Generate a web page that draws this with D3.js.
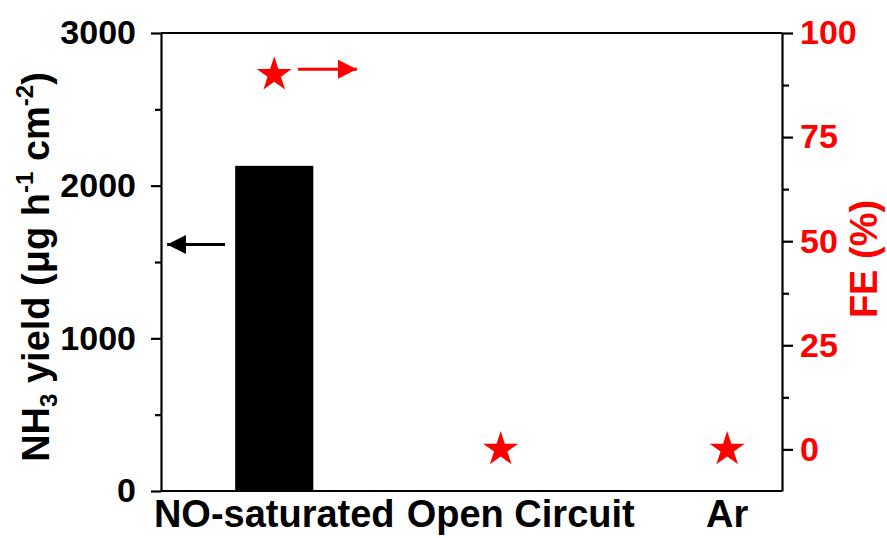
<!DOCTYPE html>
<html>
<head>
<meta charset="utf-8">
<script src="https://cdn.jsdelivr.net/npm/d3@7/dist/d3.min.js"></script>
<style>
  html, body { margin: 0; padding: 0; background: #fff; }
  svg { display: block; font-family: "Liberation Sans", Arial, Helvetica, sans-serif; font-weight: bold; }
</style>
</head>
<body>
<svg id="chart" width="887" height="538"></svg>
<script>
// Conditions along the x axis
const categories = ["NO-saturated", "Open Circuit", "Ar"];
// NH3 yield (µg h^-1 cm^-2), drawn as bars; only the NO-saturated run has a bar
const yieldValues = [2130, null, null];
// Faradaic efficiency (%), drawn as red stars
const feValues = [90, 0, 0];

// Axis ticks
const yieldTicks = [0, 1000, 2000, 3000];
const yieldMinorTicks = [500, 1500, 2500];
const feTicks = [0, 25, 50, 75, 100];
const feMinorTicks = [12.5, 37.5, 62.5, 87.5];

// Arrows telling which axis each series belongs to (data units)
const yieldArrow = { from: 0.783, to: 0.527, value: 1615 };
const feArrow = { from: 1.105, to: 1.365, value: 91.3 };

const svg = d3.select("#chart");
const margin = { left: 161, right: 105, top: 33, bottom: 47 };
const W = 887, H = 538;
const x0 = margin.left, x1 = W - margin.right;
const y0 = H - margin.bottom, y1 = margin.top;

const x = d3.scaleLinear().domain([0.5, 3.242]).range([x0, x1]);
const yL = d3.scaleLinear().domain([0, 3000]).range([y0, y1]);
const yR = d3.scaleLinear().domain([-10, 100]).range([y0, y1]);

const barWidth = 0.345; // in category units

// Bars
svg.append("g").selectAll("rect")
  .data(categories.map((c, i) => ({ c, i, v: yieldValues[i] })).filter(d => d.v != null))
  .join("rect")
  .attr("x", d => x(d.i + 1 - barWidth / 2))
  .attr("width", d => x(d.i + 1 + barWidth / 2) - x(d.i + 1 - barWidth / 2))
  .attr("y", d => yL(d.v))
  .attr("height", d => yL(0) - yL(d.v))
  .attr("fill", "#000");

// Frame: top and bottom lines
svg.append("line").attr("x1", x0).attr("x2", x1).attr("y1", y1).attr("y2", y1)
  .attr("stroke", "#000").attr("stroke-width", 2.2);
svg.append("line").attr("x1", x0).attr("x2", x1).attr("y1", y0).attr("y2", y0)
  .attr("stroke", "#000").attr("stroke-width", 2.2);

// Left axis
const gL = svg.append("g").attr("transform", `translate(${x0},0)`)
  .call(d3.axisLeft(yL).tickValues(yieldTicks).tickFormat(d3.format("d"))
    .tickSize(10).tickSizeOuter(0).tickPadding(15));
gL.append("g").call(d3.axisLeft(yL).tickValues(yieldMinorTicks).tickFormat("")
    .tickSize(6).tickSizeOuter(0))
  .select(".domain").remove();

// Right axis
const gR = svg.append("g").attr("transform", `translate(${x1},0)`)
  .call(d3.axisRight(yR).tickValues(feTicks).tickFormat(d3.format("d"))
    .tickSize(11).tickSizeOuter(0).tickPadding(7));
gR.append("g").call(d3.axisRight(yR).tickValues(feMinorTicks).tickFormat("")
    .tickSize(7).tickSizeOuter(0))
  .select(".domain").remove();

// Axis styling
svg.selectAll(".domain").attr("stroke", "#000").attr("stroke-width", 2.2);
svg.selectAll(".tick line").attr("stroke", "#000").attr("stroke-width", 2.2);
gL.selectAll(".tick text").attr("font-size", 34).attr("fill", "#000")
  .attr("font-family", "Liberation Sans, Arial, sans-serif").attr("font-weight", "bold");
gR.selectAll(".tick text").attr("font-size", 34).attr("fill", "#ff0000")
  .attr("font-family", "Liberation Sans, Arial, sans-serif").attr("font-weight", "bold");

// Category labels under the frame
const labelShift = { "Open Circuit": 20 };
svg.append("g").selectAll("text")
  .data(categories)
  .join("text")
  .attr("x", (d, i) => x(i + 1) + (labelShift[d] || 0))
  .attr("y", 527)
  .attr("text-anchor", "middle")
  .attr("font-size", 38)
  .attr("fill", "#000")
  .text(d => d);

// FE stars
svg.append("g").selectAll("path")
  .data(feValues)
  .join("path")
  .attr("transform", (d, i) => `translate(${x(i + 1)},${yR(d)})`)
  .attr("d", d3.symbol(d3.symbolStar, 380))
  .attr("fill", "#ff0000");

// Arrow heads
const defs = svg.append("defs");
function marker(id, color) {
  defs.append("marker").attr("id", id)
    .attr("viewBox", "0 0 10 10").attr("refX", 10).attr("refY", 5)
    .attr("markerUnits", "userSpaceOnUse")
    .attr("markerWidth", 19).attr("markerHeight", 21)
    .attr("orient", "auto")
    .append("path").attr("d", "M0,0L10,5L0,10Z").attr("fill", color);
}
marker("headBlack", "#000");
marker("headRed", "#ff0000");

svg.append("line")
  .attr("x1", x(yieldArrow.from)).attr("x2", x(yieldArrow.to))
  .attr("y1", yL(yieldArrow.value)).attr("y2", yL(yieldArrow.value))
  .attr("stroke", "#000").attr("stroke-width", 3)
  .attr("marker-end", "url(#headBlack)");
svg.append("line")
  .attr("x1", x(feArrow.from)).attr("x2", x(feArrow.to))
  .attr("y1", yR(feArrow.value)).attr("y2", yR(feArrow.value))
  .attr("stroke", "#ff0000").attr("stroke-width", 3)
  .attr("marker-end", "url(#headRed)");

// Left axis title
const tl = svg.append("text")
  .attr("transform", `translate(49,${(67 + 467) / 2}) rotate(-90)`)
  .attr("text-anchor", "middle")
  .attr("font-size", 38)
  .attr("fill", "#000");
tl.append("tspan").text("NH");
tl.append("tspan").attr("font-size", 24).attr("baseline-shift", "-8").text("3");
tl.append("tspan").text(" yield (μg h");
tl.append("tspan").attr("font-size", 24).attr("baseline-shift", "16").text("-1");
tl.append("tspan").text(" cm");
tl.append("tspan").attr("font-size", 24).attr("baseline-shift", "16").text("-2");
tl.append("tspan").text(")");

// Right axis title
svg.append("text")
  .attr("transform", `translate(877,${(200 + 318) / 2}) rotate(-90)`)
  .attr("text-anchor", "middle")
  .attr("font-size", 38)
  .attr("fill", "#ff0000")
  .text("FE (%)");
</script>
</body>
</html>
